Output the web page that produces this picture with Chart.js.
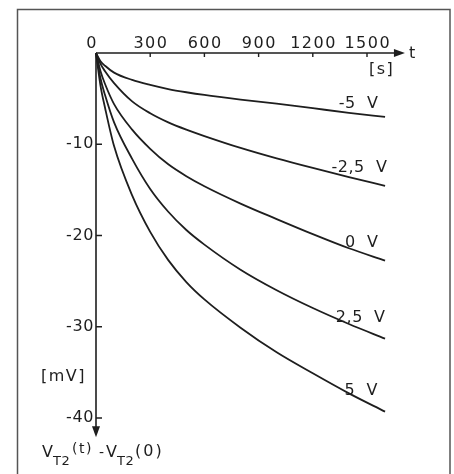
<!DOCTYPE html>
<html>
<head>
<meta charset="utf-8">
<script src="https://cdn.jsdelivr.net/npm/chart.js@4.4.1/dist/chart.umd.min.js"></script>
<style>
html,body{margin:0;padding:0;background:#fff;}
canvas{display:block;}
</style>
</head>
<body>
<canvas id="c" width="454" height="474"></canvas>
<script>
// ---- data ----
const times = [0, 25, 50, 100, 200, 300, 400, 500, 600, 800, 1000, 1200, 1400, 1600]; // t [s]
const vMinus5   = [0, -0.9, -1.4, -2.15, -2.95, -3.5, -3.95, -4.3, -4.6, -5.1, -5.55, -6.05, -6.55, -7.0];
const vMinus2_5 = [0, -1.2, -2.0, -3.3, -5.3, -6.6, -7.6, -8.4, -9.1, -10.4, -11.55, -12.6, -13.6, -14.55];
const vZero     = [0, -2.0, -3.4, -5.6, -8.4, -10.5, -12.2, -13.5, -14.6, -16.5, -18.2, -19.85, -21.4, -22.75];
const vPlus2_5  = [0, -2.8, -4.6, -7.6, -11.6, -14.9, -17.4, -19.4, -21.0, -23.75, -26.0, -27.95, -29.7, -31.3];
const vPlus5    = [0, -3.6, -6.0, -10.2, -15.6, -19.6, -22.7, -25.1, -27.0, -30.1, -32.8, -35.1, -37.3, -39.3];
const seriesLabels = ['-5  V', '-2,5  V', '0  V', '2,5  V', '5  V'];
const xTickValues = [0, 300, 600, 900, 1200, 1500];
const xTickLabels = ['0', '300', '600', '900', '1200', '1500'];
const yTickValues = [-10, -20, -30, -40];
const yTickLabels = ['-10', '-20', '-30', '-40'];

// ---- layout / style (not data) ----
const INK = '#1e1e1e';
const FONT = '16px "DejaVu Sans"';
const labelAnchorT = [1563, 1613, 1563, 1602, 1560];
const labelAnchorV = [-6.0, -13.0, -21.3, -29.5, -37.5];
const X_AXIS_END = 1710, Y_AXIS_END = -42.1;

const allSeries = [vMinus5, vMinus2_5, vZero, vPlus2_5, vPlus5];
const datasets = allSeries.map((vals, i) => ({
  label: seriesLabels[i],
  data: times.map((t, k) => ({x: t, y: vals[k]})),
  borderColor: INK,
  borderWidth: 1.8,
  pointRadius: 0,
  fill: false,
  cubicInterpolationMode: 'monotone',
  clip: false
}));

function txt(ctx, s, x, y, align, base, font, spacing) {
  ctx.font = font || FONT;
  ctx.letterSpacing = (spacing === undefined ? 1.5 : spacing) + 'px';
  ctx.textAlign = align || 'left';
  ctx.textBaseline = base || 'alphabetic';
  ctx.fillText(s, x, y);
}

const decor = {
  id: 'decor',
  beforeDatasetsDraw(chart) {
    const ctx = chart.ctx, xs = chart.scales.x, ys = chart.scales.y;
    const H = chart.height;
    ctx.save();
    // frame
    ctx.strokeStyle = '#555';
    ctx.lineWidth = 1.5;
    ctx.beginPath();
    ctx.moveTo(17.5, H + 2); ctx.lineTo(17.5, 9.5); ctx.lineTo(450, 9.5); ctx.lineTo(450, H + 2);
    ctx.stroke();

    const x0 = xs.getPixelForValue(0), y0 = ys.getPixelForValue(0);
    const xEnd = xs.getPixelForValue(X_AXIS_END), yEnd = ys.getPixelForValue(Y_AXIS_END);
    ctx.strokeStyle = INK; ctx.fillStyle = INK;
    ctx.lineWidth = 1.6;
    ctx.beginPath();
    ctx.moveTo(x0, y0); ctx.lineTo(xEnd - 6, y0);
    ctx.moveTo(x0, y0); ctx.lineTo(x0, yEnd - 6);
    ctx.stroke();
    // arrowheads
    ctx.beginPath();
    ctx.moveTo(xEnd, y0); ctx.lineTo(xEnd - 11, y0 - 4); ctx.lineTo(xEnd - 11, y0 + 4); ctx.closePath();
    ctx.fill();
    ctx.beginPath();
    ctx.moveTo(x0, yEnd); ctx.lineTo(x0 - 4, yEnd - 11); ctx.lineTo(x0 + 4, yEnd - 11); ctx.closePath();
    ctx.fill();
    // ticks
    ctx.lineWidth = 1.4;
    ctx.beginPath();
    xTickValues.forEach(v => { if (v !== 0) { const p = xs.getPixelForValue(v); ctx.moveTo(p, y0); ctx.lineTo(p, y0 + 4); } });
    yTickValues.forEach(v => { const p = ys.getPixelForValue(v); ctx.moveTo(x0, p); ctx.lineTo(x0 + 6, p); });
    ctx.stroke();
    // tick labels
    xTickValues.forEach((v, i) => {
      const p = xs.getPixelForValue(v) + (v === 0 ? -4 : 0.75);
      txt(ctx, xTickLabels[i], p, y0 - 5, 'center');
    });
    yTickValues.forEach((v, i) => {
      txt(ctx, yTickLabels[i], x0 - 2, ys.getPixelForValue(v), 'right', 'middle', FONT, 0.6);
    });
    // axis names
    txt(ctx, 't', xEnd + 4, y0 + 5, 'left');
    txt(ctx, '[s]', 369, 74, 'left');
    txt(ctx, '[mV]', 41, 381, 'left');
    // V_T2(t) - V_T2(0)
    const by = 457;
    txt(ctx, 'V', 42, by, 'left', 'alphabetic', '16px "DejaVu Sans"', 0);
    txt(ctx, 'T2', 53, by + 8, 'left', 'alphabetic', '13px "DejaVu Sans"', 0.5);
    txt(ctx, '(t)', 72, by - 4, 'left', 'alphabetic', '14px "DejaVu Sans"', 1.5);
    txt(ctx, '-', 99, by, 'left', 'alphabetic', '14px "DejaVu Sans"', 0);
    txt(ctx, 'V', 106, by, 'left', 'alphabetic', '16px "DejaVu Sans"', 0);
    txt(ctx, 'T2', 117, by + 8, 'left', 'alphabetic', '13px "DejaVu Sans"', 0.5);
    txt(ctx, '(0)', 135, by - 1, 'left', 'alphabetic', '16px "DejaVu Sans"', 2);
    ctx.restore();
  },
  afterDatasetsDraw(chart) {
    const ctx = chart.ctx, xs = chart.scales.x, ys = chart.scales.y;
    ctx.save();
    ctx.fillStyle = INK;
    seriesLabels.forEach((s, i) => {
      txt(ctx, s, xs.getPixelForValue(labelAnchorT[i]), ys.getPixelForValue(labelAnchorV[i]), 'right', 'alphabetic', FONT, 0.5);
    });
    ctx.restore();
  }
};

new Chart(document.getElementById('c'), {
  type: 'line',
  data: { datasets },
  options: {
    responsive: false,
    animation: false,
    devicePixelRatio: 1,
    layout: { padding: { left: 96, top: 53, right: 454 - (96 + 1700 * 54.2 / 300), bottom: 474 - (53 + 45 * 9.125) } },
    scales: {
      x: { type: 'linear', min: 0, max: 1700, display: false },
      y: { type: 'linear', min: -45, max: 0, display: false }
    },
    plugins: { legend: { display: false }, tooltip: { enabled: false } }
  },
  plugins: [decor]
});
</script>
</body>
</html>
